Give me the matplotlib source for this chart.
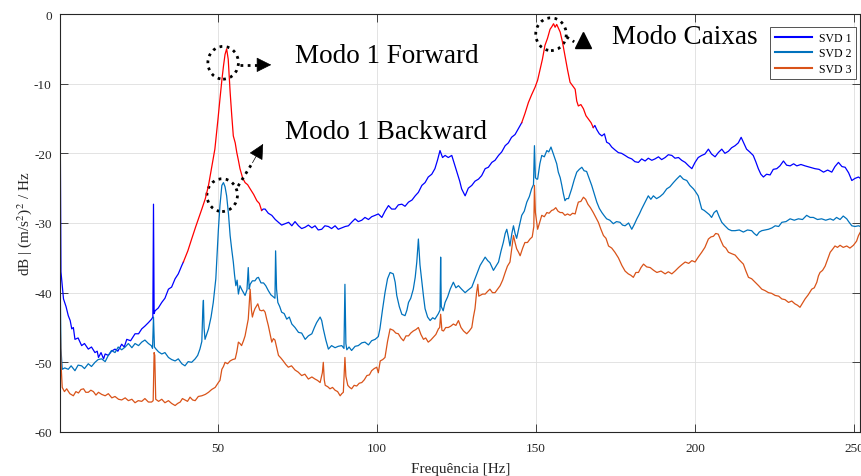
import matplotlib
matplotlib.use('Agg')
import matplotlib.pyplot as plt
from matplotlib.patches import Ellipse
import numpy as np

# ---- data (frequency Hz, level dB) ----
svd1_f = [0.3, 0.6, 1.4, 2.2, 2.9, 3.5, 4.0, 4.5, 5.0, 6.0, 7.1, 8.0, 9.2, 10.2, 11.3, 12.0, 12.4, 13.2, 14.0, 14.5,
          15.5, 16.5, 17.6, 18.5, 19.7, 20.5, 21.3, 22.5, 23.9, 25.0, 26.0, 27.0, 28.1, 29.1, 29.5, 29.7, 29.9, 30.2,
          31.2, 32.3, 33.3, 34.4, 35.4, 36.5, 37.5, 38.6, 39.1, 40.5, 41.7, 43.0, 44.9, 46.0, 47.0, 48.0, 49.0, 50.0,
          50.6, 51.2, 51.7, 52.2, 52.7, 53.2, 53.8, 54.3, 54.8, 55.4, 55.9, 56.4, 56.9, 57.7, 58.5, 59.3, 60.1, 61.2,
          62.2, 63.0, 63.7, 64.2, 64.8, 65.8, 66.9, 68.0, 69.0, 70.0, 71.1, 72.2, 73.2, 74.2, 75.3, 76.3, 77.4, 78.4,
          79.5, 80.5, 81.5, 82.6, 83.6, 84.7, 85.7, 86.8, 87.8, 88.9, 90.0, 91.0, 92.0, 93.1, 94.1, 95.2, 96.2, 97.3,
          98.3, 99.4, 100.4, 101.5, 102.5, 103.6, 104.6, 105.7, 106.7, 107.8, 108.8, 109.9, 111.0, 112.0, 113.0,
          114.1, 115.1, 116.1, 117.2, 118.2, 119.0, 119.8, 120.6, 121.4, 122.4, 123.5, 124.3, 125.1, 126.0, 126.6,
          127.7, 128.7, 129.8, 130.8, 131.9, 132.9, 134.0, 135.0, 136.1, 137.1, 138.2, 139.2, 140.3, 141.3, 142.3,
          143.4, 144.4, 145.5, 146.5, 147.6, 148.6, 149.7, 150.5, 151.3, 152.0, 152.8, 153.6, 154.4, 155.0, 155.5,
          156.0, 156.5, 157.0, 157.6, 158.3, 159.1, 159.9, 160.7, 161.5, 162.3, 162.8, 163.3, 164.1, 164.9, 165.7,
          166.5, 167.3, 168.0, 168.5, 169.1, 169.9, 170.7, 171.5, 172.2, 173.0, 173.8, 174.8, 175.9, 176.9, 178.0,
          179.0, 180.1, 181.1, 182.2, 183.2, 184.3, 185.3, 186.4, 187.4, 188.5, 189.5, 190.6, 191.6, 192.7, 193.7,
          194.8, 195.8, 196.9, 198.0, 199.0, 200.0, 201.0, 202.1, 203.1, 204.2, 205.2, 206.3, 207.3, 208.4, 209.4,
          210.5, 211.5, 212.6, 213.6, 214.5, 215.3, 216.2, 217.2, 218.3, 219.1, 219.9, 220.7, 221.5, 222.5, 223.6,
          224.6, 225.7, 226.7, 227.8, 228.8, 229.9, 231.0, 232.0, 233.3, 234.6, 236.1, 237.7, 239.0, 240.4, 241.7,
          243.0, 244.0, 245.1, 246.2, 247.2, 248.3, 249.3, 250.3, 251.4, 252.0]
svd1_db = [-10.0, -37.0, -40.9, -42.0, -43.3, -44.0, -45.2, -45.0, -46.7, -46.5, -47.6, -47.3, -48.1, -47.8, -48.6,
           -48.4, -49.3, -48.6, -49.5, -48.8, -49.0, -48.4, -48.1, -48.4, -47.4, -47.8, -46.7, -46.9, -45.9, -45.9,
           -45.2, -44.8, -44.3, -43.8, -43.5, -27.3, -43.0, -42.6, -42.2, -41.4, -40.8, -39.5, -39.2, -38.0, -37.3,
           -36.1, -35.6, -34.0, -32.3, -30.5, -28.0, -26.5, -24.6, -22.0, -19.4, -15.0, -12.2, -9.5, -7.5, -5.8,
           -5.0, -6.5, -11.2, -14.5, -17.5, -18.5, -19.9, -21.0, -22.2, -23.5, -24.2, -24.5, -25.1, -25.9, -26.8,
           -27.2, -28.2, -28.0, -28.0, -28.6, -28.9, -29.5, -29.9, -30.3, -30.1, -29.9, -30.4, -29.8, -30.4, -30.8,
           -30.6, -30.3, -30.7, -30.4, -31.0, -30.9, -30.4, -30.5, -30.8, -30.4, -30.9, -30.7, -30.5, -30.4, -29.9,
           -29.4, -29.8, -29.6, -29.2, -29.5, -29.1, -28.9, -28.7, -29.2, -28.3, -27.5, -28.0, -28.0, -27.4, -27.3,
           -27.6, -27.0, -26.7, -26.1, -25.6, -24.6, -24.2, -23.4, -23.0, -22.2, -21.0, -19.6, -20.6, -20.3, -20.6,
           -20.3, -21.5, -22.7, -24.0, -25.1, -26.1, -25.0, -24.6, -24.0, -23.7, -23.2, -22.2, -22.0, -21.3, -21.0,
           -20.3, -19.8, -18.9, -18.5, -17.7, -17.3, -16.5, -15.6, -14.3, -12.7, -11.6, -10.5, -9.5, -7.9, -6.5,
           -4.5, -3.5, -2.2, -1.8, -1.4, -1.9, -1.5, -2.0, -2.6, -4.0, -6.0, -8.0, -9.8, -10.3, -10.8, -12.5, -13.2,
           -13.0, -13.6, -14.6, -15.1, -15.6, -16.3, -16.0, -16.6, -17.2, -17.5, -17.2, -18.4, -18.6, -19.1, -19.5,
           -19.9, -20.0, -20.3, -20.6, -20.8, -21.2, -21.3, -20.8, -21.1, -20.7, -21.0, -20.8, -20.5, -20.9, -20.6,
           -20.2, -20.3, -20.7, -20.6, -21.0, -21.3, -21.8, -22.2, -21.3, -20.6, -20.3, -20.1, -19.4, -20.1, -20.5,
           -19.9, -19.4, -20.0, -19.7, -19.2, -18.9, -18.5, -17.7, -18.5, -19.4, -19.8, -20.3, -21.2, -22.2, -23.0,
           -23.4, -23.0, -23.1, -22.3, -22.2, -21.8, -21.1, -21.7, -21.8, -21.5, -21.8, -21.6, -21.8, -22.0, -22.2,
           -22.3, -22.7, -22.4, -22.7, -21.9, -21.3, -21.9, -22.0, -22.8, -23.9, -23.6, -23.4, -23.6]

svd2_f = [0.3, 0.6, 1.0, 1.8, 2.9, 3.8, 5.0, 6.0, 7.1, 8.0, 9.2, 10.2, 11.3, 12.3, 13.4, 14.5, 15.5, 16.5, 17.6, 18.6,
          19.7, 20.8, 21.8, 22.9, 23.9, 25.0, 26.0, 27.0, 28.1, 29.0, 29.4, 29.7, 30.0, 30.5, 31.3, 32.3, 33.3, 34.4,
          35.4, 36.5, 37.5, 38.6, 39.6, 40.6, 41.7, 42.8, 43.6, 44.3, 44.9, 45.2, 45.4, 45.6, 45.9, 47.0, 47.8, 48.5,
          49.3, 50.1, 50.6, 51.2, 51.7, 52.2, 52.7, 53.3, 53.8, 54.3, 54.8, 55.2, 55.6, 56.0, 56.4, 56.9, 57.4, 58.0,
          58.5, 59.1, 59.5, 59.8, 60.1, 60.8, 61.6, 62.2, 62.7, 63.5, 64.3, 65.0, 65.8, 66.6, 67.4, 67.9, 68.1, 68.4,
          68.8, 69.4, 70.0, 70.8, 71.6, 72.4, 73.2, 74.2, 75.3, 76.3, 77.4, 78.4, 79.5, 80.3, 81.0, 82.1, 82.6, 83.1,
          83.9, 84.7, 85.7, 86.8, 87.8, 88.9, 89.6, 89.9, 90.2, 90.5, 91.2, 92.0, 93.1, 94.1, 95.2, 96.2, 97.3, 98.3,
          99.4, 100.4, 100.9, 101.7, 102.5, 103.3, 104.1, 105.1, 105.7, 106.2, 107.0, 107.8, 108.8, 109.4, 109.9,
          110.6, 111.4, 112.0, 112.5, 113.0, 113.5, 114.1, 114.6, 115.1, 115.9, 116.7, 117.5, 118.2, 119.3, 119.8,
          120.0, 120.2, 120.8, 121.4, 122.2, 123.0, 124.0, 124.8, 125.6, 126.6, 127.7, 128.7, 129.8, 130.8, 131.6,
          132.4, 133.2, 134.0, 134.8, 135.5, 136.6, 137.4, 138.2, 139.0, 139.7, 140.3, 140.8, 141.3, 141.8, 142.4,
          142.9, 143.4, 143.9, 144.7, 145.5, 146.3, 147.1, 147.9, 148.6, 149.2, 149.5, 149.8, 150.2, 150.5, 151.2,
          151.8, 152.6, 153.4, 154.0, 154.7, 155.3, 156.0, 156.5, 157.0, 157.6, 158.1, 158.6, 159.1, 159.6, 160.2,
          160.7, 161.2, 162.0, 162.8, 163.6, 164.4, 165.1, 165.9, 166.7, 167.5, 168.3, 169.1, 169.9, 170.7, 171.5,
          172.2, 173.2, 174.3, 175.3, 176.4, 177.2, 178.0, 179.1, 180.1, 180.9, 181.7, 182.5, 183.2, 184.2, 185.3,
          186.1, 186.9, 187.9, 189.0, 190.0, 191.1, 192.1, 193.2, 194.2, 195.3, 196.3, 197.4, 198.4, 199.5, 200.0,
          201.0, 202.1, 202.9, 203.7, 204.5, 205.2, 206.0, 206.8, 207.6, 208.4, 209.4, 210.5, 211.5, 212.6, 213.9,
          215.2, 216.5, 217.8, 218.6, 219.4, 220.2, 221.0, 222.1, 223.1, 224.2, 225.2, 226.3, 227.3, 228.6, 229.9,
          231.2, 232.5, 233.8, 235.1, 236.2, 237.2, 238.5, 239.8, 241.1, 242.5, 243.5, 244.5, 245.6, 246.6, 247.7,
          248.3, 249.3, 250.3, 251.4, 252.0]
svd2_db = [-36.6, -48.0, -51.0, -50.8, -51.0, -50.5, -51.2, -50.4, -50.5, -50.9, -50.2, -50.6, -50.0, -49.6, -49.5,
           -49.9, -49.0, -48.3, -48.6, -47.8, -48.2, -47.8, -47.3, -47.9, -47.3, -47.6, -47.1, -46.8, -47.3, -47.6,
           -48.0, -43.5, -47.8, -48.1, -48.5, -48.8, -48.6, -49.3, -49.6, -49.8, -49.5, -50.2, -50.5, -49.9, -50.0,
           -49.5, -49.0, -48.1, -47.0, -42.5, -41.1, -45.0, -46.7, -45.2, -43.5, -41.4, -38.0, -31.0, -27.5, -24.6,
           -24.2, -24.8, -26.1, -28.8, -31.8, -33.8, -35.6, -37.5, -39.0, -38.2, -40.2, -39.0, -39.5, -40.0, -40.4,
           -39.6, -36.4, -39.5, -38.8, -38.3, -38.3, -37.9, -37.8, -38.6, -38.6, -39.0, -39.7, -40.3, -40.6, -40.8,
           -34.0, -39.5, -41.4, -42.0, -42.8, -43.0, -43.8, -43.5, -44.5, -45.0, -45.7, -45.8, -46.7, -46.2, -45.9,
           -45.0, -44.3, -43.5, -44.0, -45.2, -46.8, -48.1, -47.6, -47.9, -47.7, -47.6, -48.0, -38.8, -47.3, -48.2,
           -47.8, -48.3, -47.7, -47.6, -47.2, -47.1, -47.5, -46.9, -46.7, -46.3, -45.2, -42.5, -40.0, -38.0, -37.1,
           -37.3, -38.5, -40.4, -42.0, -43.1, -43.3, -42.5, -41.4, -40.8, -39.5, -37.8, -35.6, -32.3, -36.0, -38.5,
           -40.5, -42.3, -43.5, -44.0, -43.6, -43.8, -43.0, -42.5, -34.9, -42.0, -42.6, -41.4, -40.6, -39.5, -38.5,
           -39.3, -39.0, -39.5, -40.0, -39.6, -39.2, -38.0, -37.0, -36.1, -35.5, -34.9, -35.4, -35.7, -36.8, -36.2,
           -35.6, -34.0, -32.8, -31.5, -30.9, -32.0, -33.3, -31.5, -30.4, -31.5, -32.2, -30.5, -28.9, -28.3, -27.0,
           -26.2, -25.1, -24.5, -18.9, -23.5, -23.7, -23.7, -21.5, -20.3, -20.5, -19.6, -19.8, -19.1, -19.9, -20.8,
           -21.5, -22.7, -23.5, -24.6, -25.8, -26.8, -26.5, -26.5, -25.8, -25.1, -23.8, -22.7, -22.3, -22.0, -22.5,
           -22.6, -23.6, -24.6, -25.8, -27.0, -27.9, -28.5, -29.0, -29.4, -29.6, -30.1, -29.8, -29.9, -30.3, -30.4,
           -30.0, -30.9, -30.2, -29.4, -28.7, -28.0, -27.1, -26.1, -26.6, -26.1, -26.5, -26.2, -25.8, -25.1, -24.8,
           -24.2, -23.7, -23.2, -23.7, -23.9, -24.6, -25.1, -25.4, -26.1, -28.0, -28.2, -28.5, -28.8, -29.2, -28.5,
           -28.2, -29.1, -29.9, -30.4, -30.9, -31.1, -31.1, -31.0, -31.3, -31.0, -31.1, -31.5, -31.8, -31.3, -31.1,
           -31.0, -30.9, -30.7, -30.4, -30.5, -29.9, -29.8, -29.4, -29.6, -29.4, -29.5, -28.9, -29.2, -29.2, -29.5,
           -29.4, -29.6, -29.4, -29.6, -29.2, -29.5, -29.0, -29.4, -29.8, -30.4, -30.5, -30.4, -30.5]

svd3_f = [0.3, 0.6, 1.0, 1.7, 2.4, 3.4, 4.5, 5.3, 6.1, 6.9, 7.7, 8.4, 9.2, 10.0, 10.8, 11.6, 12.4, 13.4, 14.5, 15.5,
          16.6, 17.6, 18.7, 19.7, 20.8, 21.8, 22.9, 23.9, 24.9, 26.0, 27.0, 28.1, 29.1, 29.6, 29.9, 30.1, 30.4, 31.3,
          32.3, 33.3, 34.4, 35.4, 36.5, 37.3, 38.1, 38.8, 39.6, 40.4, 41.2, 42.0, 42.8, 43.8, 44.9, 46.0, 47.0, 48.0,
          49.1, 50.1, 50.6, 51.2, 51.7, 52.2, 53.0, 53.8, 54.6, 55.4, 55.9, 56.4, 56.9, 57.4, 58.0, 58.5, 59.0, 59.5,
          60.0, 60.1, 60.5, 60.8, 61.2, 61.6, 62.0, 62.5, 63.1, 63.7, 64.3, 64.8, 65.3, 65.8, 66.4, 66.9, 67.4, 67.9,
          68.5, 69.0, 69.8, 70.5, 71.3, 72.1, 73.1, 74.2, 75.2, 76.3, 77.3, 78.4, 79.5, 80.5, 81.3, 82.1, 82.8, 83.1,
          83.4, 83.7, 84.5, 85.2, 86.0, 86.8, 87.6, 88.4, 88.9, 89.4, 89.9, 90.2, 90.8, 91.4, 92.0, 92.8, 93.6, 94.4,
          95.2, 96.0, 96.8, 97.6, 98.3, 99.1, 99.9, 100.4, 101.0, 101.8, 102.5, 103.3, 104.1, 105.1, 105.9, 106.7,
          107.5, 108.3, 109.1, 109.9, 110.6, 111.4, 112.2, 113.0, 113.8, 114.6, 115.3, 116.1, 116.9, 117.7, 118.5,
          119.3, 119.7, 120.0, 120.4, 120.9, 121.6, 122.4, 123.2, 124.0, 124.8, 125.6, 126.4, 127.2, 128.2, 129.0,
          129.8, 130.3, 130.8, 131.3, 131.7, 132.0, 132.4, 133.2, 134.0, 134.8, 135.5, 136.3, 137.1, 137.9, 138.7,
          139.5, 140.3, 141.0, 141.8, 142.4, 142.9, 143.4, 143.9, 144.5, 145.0, 145.8, 146.5, 147.3, 148.1, 148.8,
          149.3, 149.5, 149.8, 150.2, 150.5, 151.2, 151.8, 152.6, 153.4, 154.1, 154.9, 155.5, 156.2, 156.9, 157.6,
          158.3, 159.1, 159.9, 160.7, 161.5, 162.3, 162.8, 163.3, 164.1, 164.9, 165.6, 166.3, 167.1, 168.0, 168.8,
          169.6, 170.4, 171.2, 172.0, 172.8, 173.8, 174.8, 175.9, 177.0, 178.0, 179.0, 179.8, 180.6, 181.4, 182.2,
          183.0, 183.8, 184.8, 185.9, 187.0, 188.0, 189.3, 190.6, 191.6, 192.7, 193.7, 194.8, 195.8, 196.9, 198.0,
          199.0, 200.0, 201.0, 202.1, 203.1, 204.2, 205.0, 205.8, 206.5, 207.3, 208.1, 208.9, 209.7, 210.5, 211.5,
          212.6, 213.9, 215.2, 216.0, 216.8, 217.8, 218.9, 220.0, 221.0, 222.0, 223.1, 224.1, 225.2, 226.3, 227.3,
          228.3, 229.4, 230.4, 231.4, 232.2, 233.0, 233.8, 234.6, 235.6, 236.7, 237.5, 238.3, 238.8, 239.3, 240.1,
          240.9, 241.7, 242.5, 243.2, 244.0, 244.8, 245.6, 246.6, 247.7, 248.7, 249.8, 250.8, 251.4, 252.0]
svd3_db = [-42.6, -50.0, -53.6, -54.2, -53.8, -54.5, -54.8, -54.2, -54.4, -53.9, -53.8, -54.3, -54.3, -54.0, -54.2,
           -54.7, -54.3, -54.6, -54.8, -54.5, -55.1, -54.9, -55.3, -55.4, -55.1, -55.5, -55.3, -55.8, -55.5, -55.6,
           -55.2, -55.7, -55.7, -55.5, -48.6, -49.0, -55.3, -55.6, -55.3, -55.8, -55.5, -55.9, -56.2, -55.9, -55.7,
           -55.2, -55.4, -55.6, -55.0, -55.4, -55.5, -54.9, -54.8, -54.6, -54.3, -53.9, -53.6, -52.9, -52.6, -51.0,
           -50.6, -50.0, -50.2, -49.8, -49.6, -49.5, -48.5, -47.1, -47.3, -47.6, -46.9, -46.2, -45.0, -43.8, -40.0,
           -39.5, -42.5, -43.5, -42.8, -42.3, -42.0, -41.6, -42.5, -42.6, -42.5, -42.8, -43.8, -44.7, -46.0, -47.1,
           -46.6, -46.8, -48.0, -49.0, -49.4, -49.8, -50.3, -50.7, -50.5, -51.1, -51.4, -51.9, -51.7, -52.4, -52.1,
           -52.4, -52.6, -52.9, -51.5, -50.0, -52.5, -53.3, -53.5, -53.8, -53.6, -54.0, -54.2, -54.8, -54.5, -54.3,
           -49.3, -52.0, -53.3, -53.6, -53.8, -53.3, -53.4, -53.0, -52.9, -52.5, -51.9, -51.8, -51.2, -50.9, -50.7,
           -51.5, -49.8, -49.6, -49.3, -47.0, -45.2, -45.4, -45.8, -45.9, -46.5, -46.9, -46.2, -46.2, -45.8, -45.5,
           -45.3, -45.0, -46.0, -46.7, -46.5, -47.1, -46.8, -46.4, -46.0, -45.2, -45.0, -43.1, -45.4, -45.5, -45.0,
           -45.0, -44.8, -44.5, -44.7, -44.0, -45.0, -45.5, -45.9, -45.5, -45.0, -43.5, -42.3, -40.0, -38.8, -40.5,
           -40.4, -40.2, -40.2, -39.8, -39.5, -40.0, -40.0, -39.5, -39.0, -38.2, -37.1, -36.2, -35.6, -33.5, -31.8,
           -32.8, -33.7, -34.2, -34.7, -33.6, -32.8, -32.8, -32.3, -32.0, -30.5, -24.6, -28.5, -29.9, -30.9, -29.8,
           -28.9, -29.1, -28.5, -28.6, -28.2, -28.1, -27.8, -28.3, -28.5, -28.5, -28.9, -28.7, -28.9, -28.6, -28.7,
           -27.8, -27.0, -26.9, -26.3, -26.6, -27.3, -27.8, -28.5, -29.2, -29.9, -30.9, -31.8, -32.2, -33.3, -33.6,
           -34.2, -35.0, -36.1, -36.9, -37.3, -37.5, -37.8, -37.1, -37.1, -36.4, -35.9, -36.3, -36.4, -36.8, -37.1,
           -36.9, -37.3, -37.0, -37.3, -36.9, -36.4, -36.0, -35.6, -35.8, -35.4, -35.6, -34.9, -34.2, -33.5, -32.3,
           -32.0, -31.9, -31.5, -31.6, -32.5, -33.3, -33.6, -34.2, -34.4, -34.6, -35.3, -35.9, -36.9, -37.8, -38.0,
           -38.5, -39.0, -39.5, -39.7, -40.0, -40.1, -40.4, -40.5, -40.9, -41.0, -41.4, -41.2, -41.6, -41.8, -42.1,
           -41.5, -40.9, -40.3, -39.5, -39.3, -38.5, -37.6, -37.1, -36.8, -36.2, -35.2, -34.2, -33.8, -33.3, -33.5,
           -33.2, -33.5, -33.3, -33.6, -33.2, -32.6, -31.8, -31.3]

red_bands = [(39.1, 63.7), (145.5, 168.0)]   # highlighted parts of SVD 1
labels = ['SVD 1', 'SVD 2', 'SVD 3']
xticks = [50, 100, 150, 200, 250]
yticks = [-60, -50, -40, -30, -20, -10, 0]

plt.rcParams['font.family'] = ['Liberation Serif', 'DejaVu Serif']
plt.rcParams['mathtext.fontset'] = 'stix'
plt.rcParams['axes.unicode_minus'] = False

fig = plt.figure(figsize=(8.62, 4.77), dpi=100)
ax = fig.add_axes([60 / 862, 44 / 477, 800.4 / 862, 418 / 477])

f1 = np.array(svd1_f)
d1 = np.array(svd1_db)
blue = d1.copy()
for lo, hi in red_bands:
    blue[(f1 > lo) & (f1 < hi)] = np.nan
ax.plot(f1, blue, color='#0000FF', lw=0.9, label=labels[0])
ax.plot(svd2_f, svd2_db, color='#0072BD', lw=0.9, label=labels[1])
ax.plot(svd3_f, svd3_db, color='#D95319', lw=0.9, label=labels[2])
for lo, hi in red_bands:
    m = (f1 >= lo) & (f1 <= hi)
    ax.plot(f1[m], d1[m], color='#FF0000', lw=0.9)

ax.set_xlim(0.3, 252.0)
ax.set_ylim(-60, 0)
ax.set_xticks(xticks)
ax.set_yticks(yticks)
ax.grid(True, color='#DEDEDE', lw=0.6)
ax.set_axisbelow(True)
ax.tick_params(direction='in', top=True, right=True, length=5.8, width=0.6,
               labelsize=9.5, colors='#262626')
ax.tick_params(axis='x', pad=7)
ax.tick_params(axis='y', pad=6)
for s in ax.spines.values():
    s.set_color('#262626')
    s.set_linewidth(0.8)

ax.set_xlabel('Frequência [Hz]', fontsize=11, color='#262626', labelpad=6)
ax.set_ylabel(r'dB | (m/s$^2$)$^2$ / Hz', fontsize=11, color='#262626', labelpad=0)

leg = ax.legend(loc='upper right', bbox_to_anchor=(0.9945, 0.969), borderaxespad=0,
                fontsize=8.5, frameon=True, fancybox=False, handlelength=3.1,
                borderpad=0.4, labelspacing=0.3, handletextpad=0.6)
leg.get_frame().set_edgecolor('#262626')
leg.get_frame().set_linewidth(0.7)
for ln in leg.get_lines():
    ln.set_linewidth(1.5)

# ---- annotations: dotted circles, arrows, labels ----
circles = [(51.6, -7.0), (51.3, -26.0), (154.7, -2.9)]
for cx, cy in circles:
    ax.add_patch(Ellipse((cx, cy), 9.6, 4.7, fill=False, ec='k', lw=2.0, ls=(0, (1, 1.6))))

ax.plot([56.9, 62.3], [-7.3, -7.3], color='k', lw=2.0, ls=(0, (1, 1.6)))
ax.annotate('', xy=(67.6, -7.3), xytext=(61.8, -7.3),
            arrowprops=dict(arrowstyle='-|>', color='k', lw=0.5, mutation_scale=24))
ax.plot([56.3, 60.9], [-24.7, -21.3], color='k', lw=2.0, ls=(0, (1, 1.6)))
ax.annotate('', xy=(64.6, -18.3), xytext=(60.4, -21.7),
            arrowprops=dict(arrowstyle='-|>', color='k', lw=0.5, mutation_scale=24))
ax.plot([159.6, 162.0], [-3.3, -4.0], color='k', lw=2.0, ls=(0, (1, 1.6)))
ax.plot([164.8], [-3.8], marker='^', color='k', ms=12)

ax.text(74.2, -5.9, 'Modo 1 Forward', fontsize=19.5, va='center', ha='left')
ax.text(71.1, -16.9, 'Modo 1 Backward', fontsize=19.5, va='center', ha='left')
ax.text(173.9, -3.3, 'Modo Caixas', fontsize=19.5, va='center', ha='left')

fig.savefig('out.png', dpi=100)
